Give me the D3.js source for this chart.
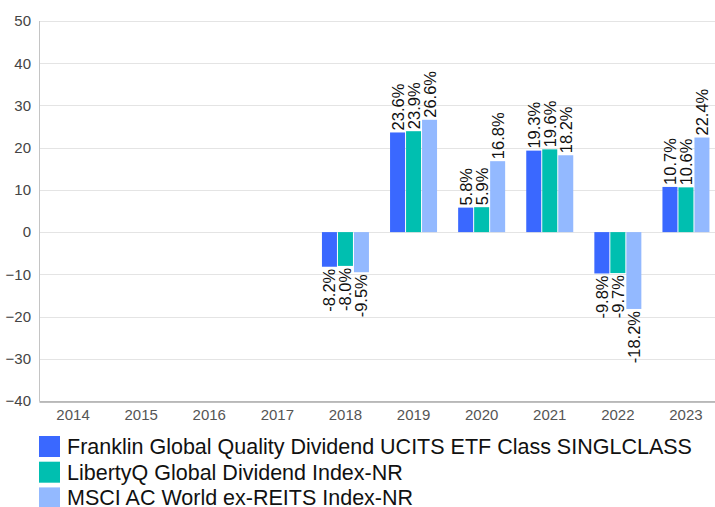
<!DOCTYPE html>
<html>
<head>
<meta charset="utf-8">
<script src="https://cdn.jsdelivr.net/npm/d3@7"></script>
<style>
  body { margin: 0; background: #fff; }
  svg { display: block; font-family: "Liberation Sans", Arial, sans-serif; }
</style>
</head>
<body>
<svg id="chart"></svg>
<script>
// DATA
const years = ["2014", "2015", "2016", "2017", "2018", "2019", "2020", "2021", "2022", "2023"];
const seriesNames = [
    "Franklin Global Quality Dividend UCITS ETF Class SINGLCLASS",
    "LibertyQ Global Dividend Index-NR",
    "MSCI AC World ex-REITS Index-NR"
];
const fundValues  = [null, null, null, null, -8.2, 23.6, 5.8, 19.3, -9.8, 10.7];
const indexValues = [null, null, null, null, -8.0, 23.9, 5.9, 19.6, -9.7, 10.6];
const msciValues  = [null, null, null, null, -9.5, 26.6, 16.8, 18.2, -18.2, 22.4];
const yTicks = [-40, -30, -20, -10, 0, 10, 20, 30, 40, 50];
const colors = ["#3a68ff", "#00bfb0", "#93b9ff"];

const allSeries = [fundValues, indexValues, msciValues];

// LAYOUT
const width = 715;
const height = 507;
const margin = { top: 21, right: -5, bottom: 106, left: 39 };

const svg = d3.select("#chart")
    .attr("width", width)
    .attr("height", height);

const xScale = d3.scaleBand()
    .domain(years)
    .range([margin.left, width - margin.right])
    .paddingInner(0)
    .paddingOuter(0);

const xInner = d3.scaleBand()
    .domain(d3.range(seriesNames.length))
    .range([0, 48])
    .padding(0);

const yScale = d3.scaleLinear()
    .domain([-40, 50])
    .range([height - margin.bottom, margin.top]);

// gridlines
svg.append("g")
    .selectAll("line")
    .data(yTicks)
    .join("line")
    .attr("x1", margin.left)
    .attr("x2", width)
    .attr("y1", d => Math.round(yScale(d)) + 0.5)
    .attr("y2", d => Math.round(yScale(d)) + 0.5)
    .attr("stroke", "#e4e4e4")
    .attr("stroke-width", 1);

// y axis labels
const yAxis = svg.append("g")
    .attr("transform", `translate(${margin.left}, 0)`)
    .call(d3.axisLeft(yScale).tickValues(yTicks).tickSize(0).tickPadding(8));
yAxis.select(".domain").remove();
yAxis.selectAll("text")
    .attr("font-size", 15)
    .attr("font-family", "Liberation Sans, Arial, sans-serif")
    .attr("fill", "#444");

// bars
const groups = svg.append("g")
    .selectAll("g")
    .data(years)
    .join("g")
    .attr("transform", d => `translate(${xScale(d) + (xScale.bandwidth() - 48) / 2}, 0)`);

groups.each(function (year, yi) {
    const g = d3.select(this);
    const recs = allSeries.map((s, si) => ({ si, v: s[yi] })).filter(d => d.v !== null);

    g.selectAll("rect")
        .data(recs)
        .join("rect")
        .attr("x", d => xInner(d.si) + 0.5)
        .attr("width", xInner.bandwidth() - 1)
        .attr("y", d => yScale(Math.max(0, d.v)))
        .attr("height", d => Math.abs(yScale(d.v) - yScale(0)))
        .attr("fill", d => colors[d.si]);

    // value labels, rotated
    g.selectAll("text")
        .data(recs)
        .join("text")
        .attr("transform", d => {
            const cx = xInner(d.si) + xInner.bandwidth() / 2;
            const cy = d.v >= 0 ? yScale(d.v) - 2 : yScale(d.v) + 2;
            return `translate(${cx}, ${cy}) rotate(-90)`;
        })
        .attr("text-anchor", d => d.v >= 0 ? "start" : "end")
        .attr("dy", "0.36em")
        .attr("font-size", 16.5)
        .attr("fill", "#111")
        .text(d => d.v.toFixed(1) + "%");
});

// left axis line
svg.append("line")
    .attr("x1", margin.left + 0.5)
    .attr("x2", margin.left + 0.5)
    .attr("y1", margin.top)
    .attr("y2", yScale(-40))
    .attr("stroke", "#c4c4c4")
    .attr("stroke-width", 1);

// x axis
const xAxis = svg.append("g")
    .attr("transform", `translate(0, ${Math.round(yScale(-40)) + 0.5})`)
    .call(d3.axisBottom(xScale).tickSize(0).tickPadding(8));
xAxis.select(".domain")
    .attr("stroke", "#aaa")
    .attr("stroke-width", 1.5);
xAxis.selectAll("text")
    .attr("font-size", 15)
    .attr("font-family", "Liberation Sans, Arial, sans-serif")
    .attr("fill", "#555");

// legend
const legend = svg.append("g")
    .attr("transform", "translate(39, 436)");

const items = legend.selectAll("g")
    .data(seriesNames)
    .join("g")
    .attr("transform", (d, i) => `translate(0, ${i * 25.7})`);

items.append("rect")
    .attr("width", 21)
    .attr("height", 21)
    .attr("fill", (d, i) => colors[i]);

items.append("text")
    .attr("x", 28)
    .attr("y", 18)
    .attr("font-size", 21.5)
    .attr("fill", "#111")
    .text(d => d);
</script>
</body>
</html>
